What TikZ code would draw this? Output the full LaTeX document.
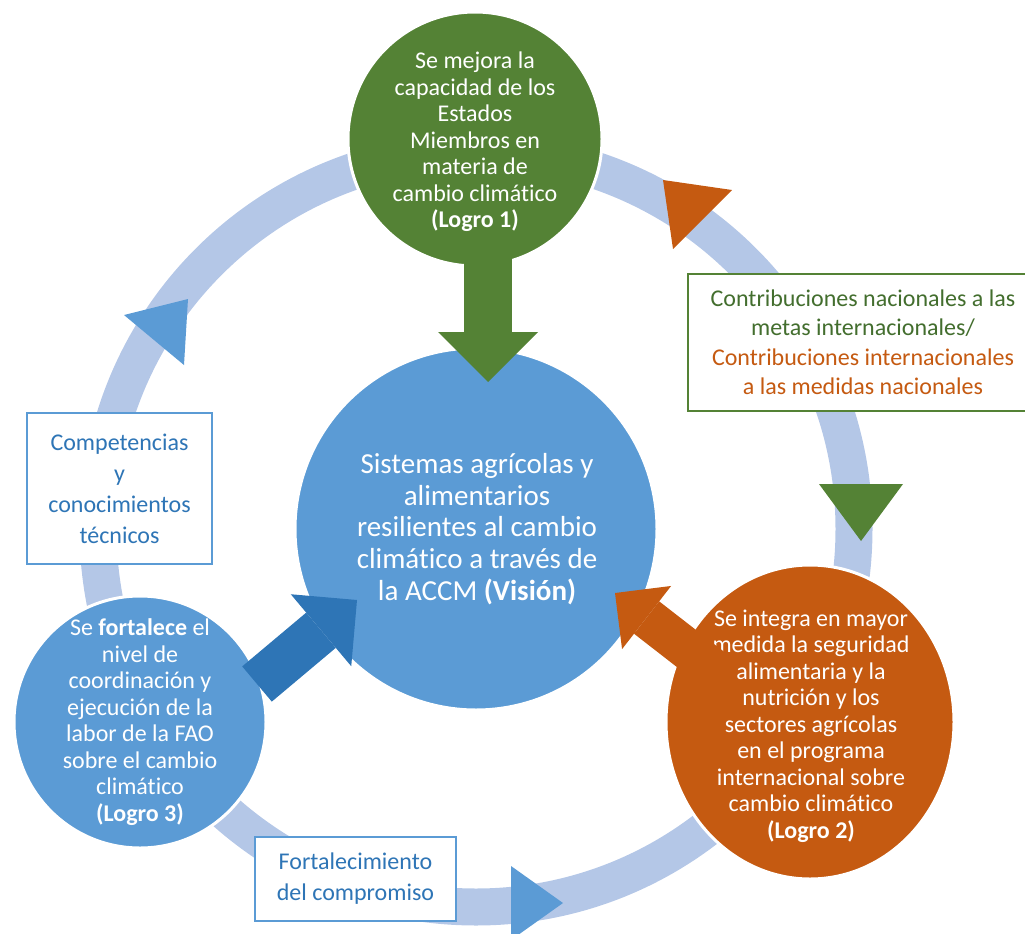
\documentclass[tikz,border=0pt]{standalone}
\usepackage{fontspec}
\setmainfont{Carlito}[RawFeature={-liga;-clig;-calt;-dlig}]
\usetikzlibrary{arrows.meta,shapes.geometric}
\definecolor{ringblue}{HTML}{B4C7E7}
\definecolor{visionblue}{HTML}{5B9BD5}
\definecolor{arrowblue}{HTML}{2E75B6}
\definecolor{logrogreen}{HTML}{548235}
\definecolor{textgreen}{HTML}{436E2E}
\definecolor{logroorange}{HTML}{C55A11}

\begin{document}
\begin{tikzpicture}[x=1pt,y=-1pt,
	logro/.style={circle,draw=white,line width=3pt,inner sep=0pt},
	logrotext/.style={text=white,align=center,font=\fontsize{24}{26.5}\selectfont},
	infobox/.style={draw,fill=white,line width=1.5pt,inner sep=0pt,align=center,font=\fontsize{24}{29.5}\selectfont},
	blockarrow/.style n args={3}{line width=#1,-{Triangle[length=#2,width=#3,line width=0pt]}}]
	\useasboundingbox (0,0) rectangle (1025,934);
	\coordinate (hub) at (476,529);
	\draw[ringblue,line width=37pt] (hub) circle (378pt);
	\fill[logroorange] (663,180) -- (732,190) -- (673,249) -- cycle;
	\fill[logrogreen] (819,484) -- (903,484) -- (861,541) -- cycle;
	\fill[visionblue] (511,866) -- (563,903) -- (511,940) -- cycle;
	\fill[visionblue] (124,315) -- (188,299) -- (184,365) -- cycle;
	\node[infobox,draw=logrogreen,minimum width=350pt,minimum height=137pt] (contrib) at (863,342.5)
		{\textcolor{textgreen}{Contribuciones nacionales a las}\\\textcolor{textgreen}{metas internacionales/}\\
		\textcolor{logroorange}{Contribuciones internacionales}\\\textcolor{logroorange}{a las medidas nacionales}};
	\node[infobox,draw=visionblue,text=arrowblue,font=\fontsize{24}{31}\selectfont,minimum width=185pt,minimum height=151pt] (tecnica) at (119.5,488.5)
		{Competencias\\y\\conocimientos\\técnicos};
	\node[infobox,draw=visionblue,text=arrowblue,font=\fontsize{24}{31}\selectfont,minimum width=201pt,minimum height=84pt] (compromiso) at (355.5,879)
		{Fortalecimiento\\del compromiso};
	\node[logro,fill=logrogreen,minimum size=254pt] (logro1) at (475,139) {};
	\node[logro,ellipse,fill=logroorange,minimum width=288pt,minimum height=314pt] (logro2) at (810,722) {};
	\node[logro,fill=visionblue,minimum size=252pt] (logro3) at (140,722) {};
	\node[logro,fill=visionblue,minimum size=362pt] (vision) at (hub) {};
	\node[logrotext] (logro1txt) at (475,142)
		{Se mejora la\\capacidad de los\\Estados\\Miembros en\\materia de\\cambio climático\\\textbf{(Logro 1)}};
	\node[logrotext] (logro2txt) at (811,726)
		{Se integra en mayor\\medida la seguridad\\alimentaria y la\\nutrición y los\\sectores agrícolas\\en el programa\\internacional sobre\\cambio climático\\\textbf{(Logro 2)}};
	\node[logrotext] (logro3txt) at (140,722)
		{Se \textbf{fortalece} el\\nivel de\\coordinación y\\ejecución de la\\labor de la FAO\\sobre el cambio\\climático\\\textbf{(Logro 3)}};
	\node[logrotext,font=\fontsize{29}{31.7}\selectfont] (visiontxt) at (477,529)
		{Sistemas agrícolas y\\alimentarios\\resilientes al cambio\\climático a través de\\la ACCM \textbf{(Visión)}};
	\coordinate (base1) at (488,248);
	\coordinate (tip1) at (488,382);
	\coordinate (base2) at (718,673);
	\coordinate (tip2) at (615,593);
	\coordinate (base3) at (257,684);
	\coordinate (tip3) at (357,600);
	\draw[logrogreen,blockarrow={48pt}{50pt}{100pt}] (base1) -- (tip1);
	\draw[logroorange,blockarrow={41pt}{40pt}{80pt}] (base2) -- (tip2);
	\draw[arrowblue,blockarrow={46pt}{47pt}{94pt}] (base3) -- (tip3);
\end{tikzpicture}
\end{document}
